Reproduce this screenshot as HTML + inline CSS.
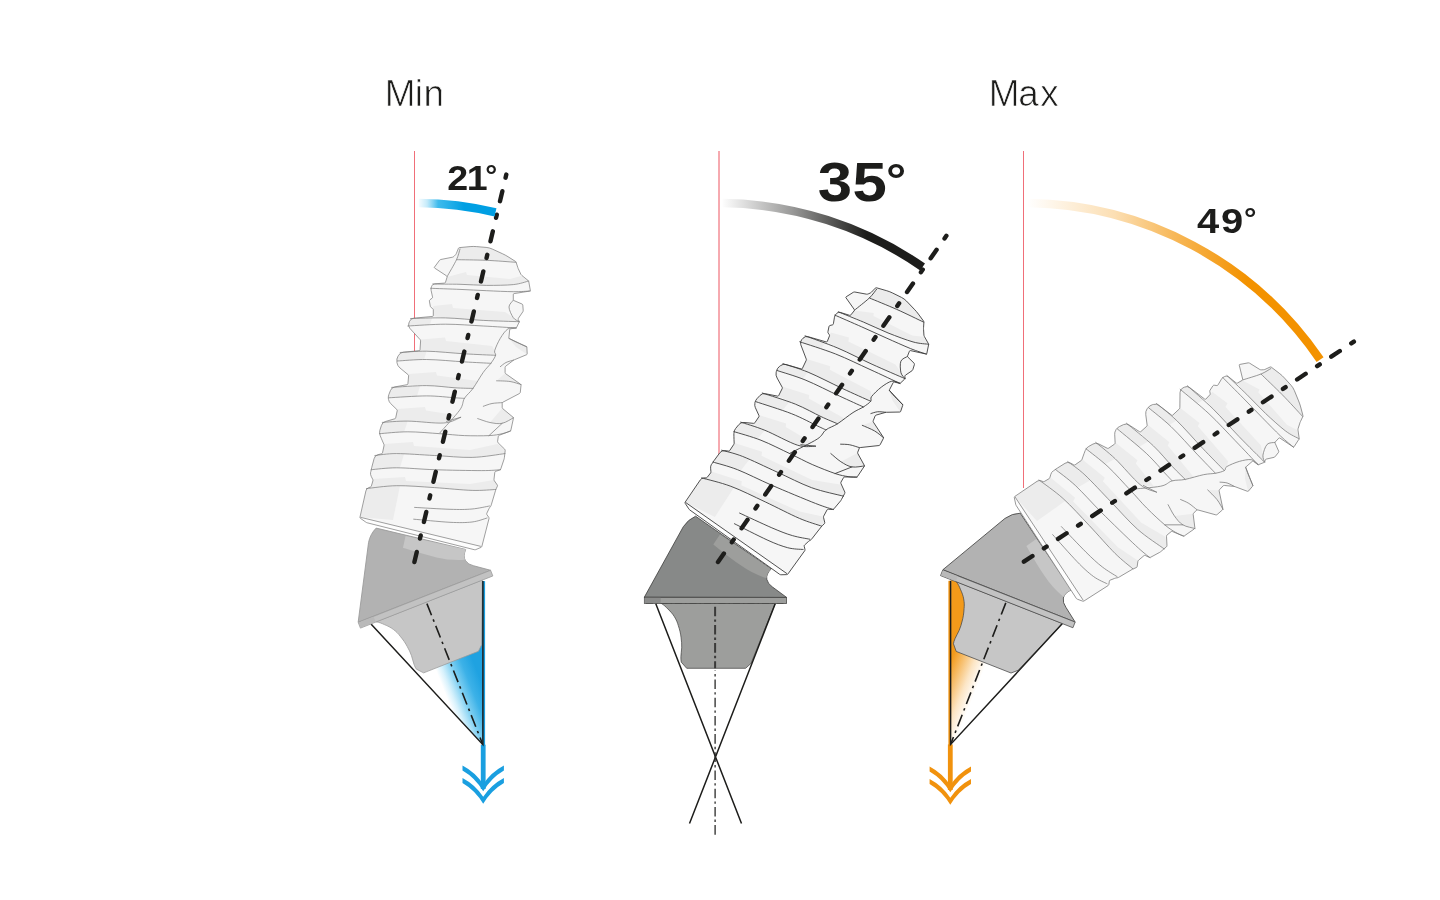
<!DOCTYPE html>
<html lang="en">
<head>
<meta charset="utf-8">
<title>Angulation Min / Max</title>
<style>
html,body{margin:0;padding:0;background:#fff;}
body{width:1440px;height:900px;overflow:hidden;}
svg{display:block;}
text{font-family:"Liberation Sans",sans-serif;fill:#1d1d1b;filter:opacity(1);}
.b{font-weight:700;}
</style>
</head>
<body>
<svg width="1440" height="900" viewBox="0 0 1440 900">
<defs>
<linearGradient id="amin" gradientUnits="userSpaceOnUse" x1="416.8" y1="0" x2="495.5" y2="0"><stop offset="0" stop-color="#4fc1f0" stop-opacity="0"/><stop offset="0.13" stop-color="#3dbbee" stop-opacity="0.3"/><stop offset="0.27" stop-color="#2ab3ea" stop-opacity="0.9"/><stop offset="0.6" stop-color="#009fe3" stop-opacity="1"/><stop offset="1" stop-color="#009fe3" stop-opacity="1"/></linearGradient>
<linearGradient id="amid" gradientUnits="userSpaceOnUse" x1="721.4" y1="0" x2="922.6" y2="0"><stop offset="0" stop-color="#1d1d1b" stop-opacity="0"/><stop offset="0.35" stop-color="#1d1d1b" stop-opacity="0.45"/><stop offset="0.72" stop-color="#1d1d1b" stop-opacity="1"/><stop offset="1" stop-color="#1d1d1b" stop-opacity="1"/></linearGradient>
<linearGradient id="amax" gradientUnits="userSpaceOnUse" x1="1026.9" y1="0" x2="1320.1" y2="0"><stop offset="0" stop-color="#f39200" stop-opacity="0"/><stop offset="0.3" stop-color="#f39200" stop-opacity="0.3"/><stop offset="0.5" stop-color="#f39200" stop-opacity="0.65"/><stop offset="0.75" stop-color="#f39200" stop-opacity="1"/><stop offset="1" stop-color="#f39200" stop-opacity="1"/></linearGradient>
<linearGradient id="gmin" gradientUnits="userSpaceOnUse" x1="737.1" y1="0" x2="699.1" y2="0"><stop offset="0" stop-color="#1fa2e1" stop-opacity="1"/><stop offset="0.3" stop-color="#27a9e5" stop-opacity="0.9"/><stop offset="0.58" stop-color="#33b3ea" stop-opacity="0.62"/><stop offset="0.84" stop-color="#3fbdf0" stop-opacity="0.2"/><stop offset="1" stop-color="#3fbdf0" stop-opacity="0"/></linearGradient>
<linearGradient id="gmax" gradientUnits="userSpaceOnUse" x1="685.1" y1="0" x2="719.1" y2="0"><stop offset="0" stop-color="#f39a1a" stop-opacity="1"/><stop offset="0.35" stop-color="#f39a1a" stop-opacity="0.6"/><stop offset="0.65" stop-color="#f39a1a" stop-opacity="0.25"/><stop offset="1" stop-color="#f39a1a" stop-opacity="0"/></linearGradient>
</defs>
<rect width="1440" height="900" fill="#fff"/>
<g>
<text font-size="36.8" y="106.2" x="384.7 414.7 423.4" stroke="#fff" stroke-width=".7">Min</text>
<text font-size="36.8" y="106.2" x="988.8 1018.3 1040.3" stroke="#fff" stroke-width=".7">Max</text>
</g>
<!-- Min view -->
<path d="M414.5 151V500" stroke="#ed5561" stroke-width=".85" fill="none"/>
<g transform="translate(413.8 562.5) rotate(-21.5) translate(-718 -562)">
<path d="M655.7 603.5 L775.3 603.5 L715.5 756.9Z" fill="url(#gmin)"/>
<path d="M661.1 603.3 C664 605 666 607 667.8 608.9 C670.5 611.5 672.8 614 674.4 616.7 C676.3 619.8 677.5 622.5 678.3 625.6 C679.8 630 680.7 634 681.1 637.8 C681.6 641 681.8 644.5 681.7 647.8 C681.6 651 681 653.5 680.9 656.7 C680.8 659 681 660.8 681.3 662.2 L686.7 668.3 L745.6 668.3 L751.1 663.3 L775.3 603.3 Z" fill="#c6c6c6" stroke="#9a9a9a" stroke-width=".7"/>
</g>
<path d="M426.9 603.6L482.9 744.7" stroke="#1d1d1b" stroke-width="1.6" stroke-dasharray="12.5 4.5 2.5 4.5" fill="none"/>
<path d="M483.8 581.1V745.7" stroke="#1a9fe0" stroke-width="2.6" fill="none"/>
<path d="M483.2 744.7V789" stroke="#1a9fe0" stroke-width="4.8" fill="none"/>
<path d="M462.5 770.4 Q475.4 777.9 483.2 791.3 Q491 777.9 503.9 770.4 L503.9 765.5 Q491 772.3 483.2 784.3 Q475.4 772.3 462.5 765.5 Z M462.5 782.9 Q475.4 790.4 483.2 803.8 Q491 790.4 503.9 782.9 L503.9 778 Q491 784.8 483.2 796.8 Q475.4 784.8 462.5 778 Z" fill="#1a9fe0"/>
<path d="M371 623.9L482.9 744.7L482.9 581.1" stroke="#1d1d1b" stroke-width="1.5" fill="none" stroke-linejoin="miter"/>
<g transform="translate(413.8 562.5) rotate(-21.5) translate(-718 -562)">
<path d="M644.4 597.1 L683.3 526.7 Q688 519.5 695.6 516.2 L771.1 568.9 Q765.8 574.3 766.8 579.3 Q767.8 584 772.5 587 L786.6 597.4 Z" fill="#b2b2b2" stroke="#9a9a9a" stroke-width=".8" stroke-linejoin="round"/>
<path d="M713.3 544.4 L720 534.4 L771.1 568.9 Q766.5 573.5 766.6 578.3 Q752 573.5 741.1 565.6 Q730 558 713.3 544.4Z" fill="#c6c6c6"/>
<rect x="644.3" y="597.4" width="142.3" height="6.1" fill="#c2c2c2" stroke="#9a9a9a" stroke-width=".7"/>
<rect x="644.7" y="597.8" width="16" height="5.3" fill="#b9b9b9"/>
</g>
<g transform="translate(414.4 562) rotate(0) translate(-414.4 -562)">
<path d="M360.4 518.3Q359.8 517.8 360 517L365.9 490.9Q366.4 488.6 368.6 487.7L370.5 487Q371.2 486.7 371.4 485.9L372.9 480.8Q373.1 480 372.7 479.3L371.2 476.3Q370.2 474.4 370.6 472.3L370.8 471.8Q371.2 469.7 371.7 467.6L374.1 458.6Q374.9 455.5 378 454.7L381.5 453.8Q382.3 453.6 382.5 452.8L384 445.8Q384.2 445 383.9 444.3L382.4 440.9Q381.3 438.4 380.3 435.9L380.1 435.3Q379.1 432.8 379.9 430.2L381.4 425.5Q382.3 422.4 385.4 421.5L394.7 418.8Q395.5 418.6 395.7 417.8L397.2 410.9Q397.4 410.1 396.8 409.5L390.7 403.6Q389 402 388.6 399.7L388.4 399.2Q388 396.9 388.8 394.7L390.5 390.4Q391.7 387.4 394.9 386.9L407 384.7Q407.8 384.6 407.9 383.8L408.6 376Q408.7 375.2 408.1 374.7L400 368Q397.5 366 397 362.9L396.9 362.1Q396.4 359 398 356.2L398.6 355.3Q400.2 352.5 403.4 352.2L419.2 350.7Q420 350.6 420 349.8L420.6 341Q420.6 340.2 420.1 339.6L409.9 328.4Q407.8 326 408.9 323L409.5 321.5Q410.6 318.5 413.8 318.2L432.5 316.4Q433.3 316.3 433.3 315.5L433.3 309.8Q433.3 309 432.6 308.5L431.1 307.5Q430.4 307 430.3 306.2L429.4 301.1Q429.3 300.3 429.9 299.8L432.1 298.2Q432.7 297.7 432.5 296.9L431.1 290.4Q430.7 288.3 431.6 286.4L431.8 285.9Q432.7 284 434.8 283.8L444.5 283.1Q445.3 283 445.5 282.2L447.1 277.1Q447.3 276.3 446.6 275.9L434.7 268.1Q434 267.7 434.5 267.1L439.5 260.3Q440 259.7 440.8 259.5L452.5 257.2Q453.3 257 453.9 256.4L455.4 254.9Q456 254.3 456.3 253.6L458.4 248.4Q458.7 247.7 459.5 247.6L470.1 246.6Q473.3 246.3 476.5 246.6L486.1 247.4Q489.3 247.7 492.2 249L502.4 253.7Q505.3 255 508 256.7L515.3 261.3Q516 261.7 516.2 262.5L517.8 267.5Q518 268.3 518.4 269L520.9 274.3Q521.3 275 521.9 275.5L528.1 280.5Q528.7 281 528.8 281.8L530.3 290.2Q530.4 291 529.6 291.1L514.1 293.6Q513.3 293.7 513.3 294.5L513.3 299.5Q513.3 300.3 514 300.6L522 304Q522.7 304.3 522.8 305.1L523.2 310.2Q523.3 311 522.9 311.7L518.4 318.3Q518 319 518.3 319.7L519 321Q519.3 321.7 519 322.4L516.7 327.3Q516.4 328 515.6 328.1L510.6 328.8Q509.8 328.9 509.7 329.7L508.9 337.5Q508.8 338.3 509.5 338.6L526.1 346.5Q526.8 346.8 526.9 347.6L527.2 353.6Q527.3 354.4 526.6 354.7L514.3 359.8Q513.6 360.1 513 360.6L505.7 366.2Q505.1 366.7 505.1 367.5L505.1 372.5Q505.1 373.3 505.8 373.8L520.4 384.1Q521.1 384.6 521 385.4L520.3 392.3Q520.2 393.1 519.5 393.5L502.9 402.2Q502.2 402.6 502.2 403.4L502.2 407.4Q502.2 408.2 502.8 408.7L513 417.2Q513.6 417.7 513.4 418.5L510.9 430.1Q510.7 430.9 510 431.2L499.1 435.3Q498.4 435.6 498.3 436.4L497.6 441.4Q497.5 442.2 498.1 442.8L504.7 449.2Q505.3 449.8 505.2 450.6L504.4 457.5Q504.3 458.3 504.1 459.1L500.8 468.9Q500.6 469.7 499.8 470L495.7 471.3Q494.9 471.6 494.8 472.4L494 479.2Q493.9 480 494.3 480.7L497.3 485Q497.7 485.7 497.3 486.4L496.2 488.8Q495.8 489.5 495.6 490.3L491.3 504.8Q491.1 505.6 490.7 506.3L489.6 507.7Q489.2 508.4 488.8 509.1L486.8 513.3Q486.4 514 486.9 514.6L488.7 517.2Q489.2 517.8 489 518.6L481.9 546.3Q481.7 547.1 481 547.4L475.8 549.6Q475.1 549.9 474.3 549.7L367.2 522.8Q366.4 522.6 365.8 522.1Z" fill="#f6f6f6" stroke="none"/>
<path d="M458.7 247.7 L473.3 246.3 L489.3 247.7 L505.3 255 L516 261.7 L486 260.3 L456.7 259.7Z" fill="#ececec"/>
<path d="M447 277 L466 272 L467 275 L510 279 L521 276 L528.7 281 L513.3 284.6 L486.7 285.4 L460 284.3 L445.3 283Z" fill="#ececec"/>
<path d="M433.3 306 L452 304 L453 308 L505 312 L511 316 L519.2 321.7 L483.3 320.4 L445.6 317.9 L433.3 316.3Z" fill="#ececec"/>
<path d="M420.6 339.5 L445 337.5 L446 341 L492 346 L494.7 350.6 L495.6 355.3 L464.4 353.8 L426.7 351.2 L420 350.6Z" fill="#ececec"/>
<path d="M408.7 374 L436 372 L437 375.5 L478 381 L473 388.4 L455 387.8 L426.7 385.6 L407.8 384.6Z" fill="#ececec"/>
<path d="M397.4 409 L425 407 L426 410.5 L455 415 L446.5 421.4 L443.7 423 L407.8 421.1 L382.3 422.4 L395.5 418.6Z" fill="#ececec"/>
<path d="M384.2 444 L413 442 L414 446 L470 450 L497.5 444 L505.3 449.8 L505 453.6 L472.2 457.4 L434.4 455.5 L396.7 453.6 L374.9 455.5 L382.3 453.6Z" fill="#ececec"/>
<path d="M373.1 479 L405 477 L406 481 L470 484 L494 480 L497.7 485.7 L495.8 489.5 L472.2 490.4 L434.4 487.6 L396.7 485.7 L366.4 488.6 L371.2 486.7Z" fill="#ececec"/>
<path d="M410.6 318.5 L432 317.9 L430 324.8 L407.8 326Z" fill="#ececec"/>
<path d="M400.2 352.5 L426.7 351.2 L424 359.6 L397.4 361 L396.4 359Z" fill="#ececec"/>
<path d="M391.7 387.4 L420 385.9 L417 396.3 L388.9 397.8 L388 396.9Z" fill="#ececec"/>
<path d="M382.3 422.4 L407.8 421.1 L404 432 L379.5 433.7 L379.1 432.8Z" fill="#ececec"/>
<path d="M374.9 455.5 L404 453.9 L400 467.6 L371.2 469.7Z" fill="#ececec"/>
<path d="M366.4 488.6 L400 485.8 L393 520 L360.4 517.3Z" fill="#ececec"/>
<path d="M508.8 338.3 L526.8 346.8 L527.3 354.4 L516 347Z" fill="#ececec"/>
<path d="M505.1 373.3 L521.1 384.6 L510 381.5 L496.6 380.8Z" fill="#ececec"/>
<path d="M502.2 408.2 L513.6 417.7 L502.2 423.3 L490 422.5Z" fill="#ececec"/>
<path d="M360.4 517.3 L480.9 546.4 L481.7 547.1 L475.1 549.9 L366.4 522.6 L359.8 517.8Z" fill="#fdfdfd"/>
<path d="M360.4 518.3Q359.8 517.8 360 517L365.9 490.9Q366.4 488.6 368.6 487.7L370.5 487Q371.2 486.7 371.4 485.9L372.9 480.8Q373.1 480 372.7 479.3L371.2 476.3Q370.2 474.4 370.6 472.3L370.8 471.8Q371.2 469.7 371.7 467.6L374.1 458.6Q374.9 455.5 378 454.7L381.5 453.8Q382.3 453.6 382.5 452.8L384 445.8Q384.2 445 383.9 444.3L382.4 440.9Q381.3 438.4 380.3 435.9L380.1 435.3Q379.1 432.8 379.9 430.2L381.4 425.5Q382.3 422.4 385.4 421.5L394.7 418.8Q395.5 418.6 395.7 417.8L397.2 410.9Q397.4 410.1 396.8 409.5L390.7 403.6Q389 402 388.6 399.7L388.4 399.2Q388 396.9 388.8 394.7L390.5 390.4Q391.7 387.4 394.9 386.9L407 384.7Q407.8 384.6 407.9 383.8L408.6 376Q408.7 375.2 408.1 374.7L400 368Q397.5 366 397 362.9L396.9 362.1Q396.4 359 398 356.2L398.6 355.3Q400.2 352.5 403.4 352.2L419.2 350.7Q420 350.6 420 349.8L420.6 341Q420.6 340.2 420.1 339.6L409.9 328.4Q407.8 326 408.9 323L409.5 321.5Q410.6 318.5 413.8 318.2L432.5 316.4Q433.3 316.3 433.3 315.5L433.3 309.8Q433.3 309 432.6 308.5L431.1 307.5Q430.4 307 430.3 306.2L429.4 301.1Q429.3 300.3 429.9 299.8L432.1 298.2Q432.7 297.7 432.5 296.9L431.1 290.4Q430.7 288.3 431.6 286.4L431.8 285.9Q432.7 284 434.8 283.8L444.5 283.1Q445.3 283 445.5 282.2L447.1 277.1Q447.3 276.3 446.6 275.9L434.7 268.1Q434 267.7 434.5 267.1L439.5 260.3Q440 259.7 440.8 259.5L452.5 257.2Q453.3 257 453.9 256.4L455.4 254.9Q456 254.3 456.3 253.6L458.4 248.4Q458.7 247.7 459.5 247.6L470.1 246.6Q473.3 246.3 476.5 246.6L486.1 247.4Q489.3 247.7 492.2 249L502.4 253.7Q505.3 255 508 256.7L515.3 261.3Q516 261.7 516.2 262.5L517.8 267.5Q518 268.3 518.4 269L520.9 274.3Q521.3 275 521.9 275.5L528.1 280.5Q528.7 281 528.8 281.8L530.3 290.2Q530.4 291 529.6 291.1L514.1 293.6Q513.3 293.7 513.3 294.5L513.3 299.5Q513.3 300.3 514 300.6L522 304Q522.7 304.3 522.8 305.1L523.2 310.2Q523.3 311 522.9 311.7L518.4 318.3Q518 319 518.3 319.7L519 321Q519.3 321.7 519 322.4L516.7 327.3Q516.4 328 515.6 328.1L510.6 328.8Q509.8 328.9 509.7 329.7L508.9 337.5Q508.8 338.3 509.5 338.6L526.1 346.5Q526.8 346.8 526.9 347.6L527.2 353.6Q527.3 354.4 526.6 354.7L514.3 359.8Q513.6 360.1 513 360.6L505.7 366.2Q505.1 366.7 505.1 367.5L505.1 372.5Q505.1 373.3 505.8 373.8L520.4 384.1Q521.1 384.6 521 385.4L520.3 392.3Q520.2 393.1 519.5 393.5L502.9 402.2Q502.2 402.6 502.2 403.4L502.2 407.4Q502.2 408.2 502.8 408.7L513 417.2Q513.6 417.7 513.4 418.5L510.9 430.1Q510.7 430.9 510 431.2L499.1 435.3Q498.4 435.6 498.3 436.4L497.6 441.4Q497.5 442.2 498.1 442.8L504.7 449.2Q505.3 449.8 505.2 450.6L504.4 457.5Q504.3 458.3 504.1 459.1L500.8 468.9Q500.6 469.7 499.8 470L495.7 471.3Q494.9 471.6 494.8 472.4L494 479.2Q493.9 480 494.3 480.7L497.3 485Q497.7 485.7 497.3 486.4L496.2 488.8Q495.8 489.5 495.6 490.3L491.3 504.8Q491.1 505.6 490.7 506.3L489.6 507.7Q489.2 508.4 488.8 509.1L486.8 513.3Q486.4 514 486.9 514.6L488.7 517.2Q489.2 517.8 489 518.6L481.9 546.3Q481.7 547.1 481 547.4L475.8 549.6Q475.1 549.9 474.3 549.7L367.2 522.8Q366.4 522.6 365.8 522.1Z" fill="none" stroke="#777" stroke-width="0.7" stroke-linejoin="round"/>
<path d="M366.4 488.6C371.4 488.1 385.4 485.9 396.7 485.7C408 485.5 421.8 486.8 434.4 487.6C447 488.4 462 490.1 472.2 490.4C482.4 490.7 491.9 489.6 495.8 489.5 M374.9 455.5C378.5 455.2 386.8 453.6 396.7 453.6C406.6 453.6 421.8 454.9 434.4 455.5C447 456.1 460.4 457.7 472.2 457.4C484 457.1 499.5 454.2 505 453.6 M371.2 469.7C375.4 469.4 386.2 467.8 396.7 467.8C407.2 467.8 420.2 469.2 434.4 469.7C448.6 470.2 470.7 470.6 481.7 470.6C492.7 470.6 497.5 469.9 500.6 469.7 M382.3 422.4C386.6 422.2 397.6 421 407.8 421.1C418 421.2 434.9 423.6 443.7 423C452.5 422.4 457.9 418.2 460.7 417.3 M379.5 433.7C384.2 433.4 397.7 431.8 407.8 431.8C417.9 431.8 430.5 433.1 439.9 433.7C449.3 434.3 456.2 435.3 464.4 435.6C472.6 435.9 482.7 435.9 489 435.6C495.3 435.3 498.6 434.5 502.2 433.7C505.8 432.9 509.3 431.4 510.7 430.9 M391.7 387.4C397.5 387.1 416.1 385.5 426.7 385.6C437.2 385.7 447.3 387.3 455 387.8C462.7 388.3 470 388.3 473 388.4 M388.9 397.8C395.2 397.5 415.7 395.9 426.7 395.9C437.7 395.9 448.7 397.4 455 397.8C461.3 398.2 462.8 398.3 464.4 398.4 M400.2 352.5C404.6 352.3 416 351 426.7 351.2C437.4 351.4 452.9 353.1 464.4 353.8C475.9 354.5 490.4 355.1 495.6 355.3 M397.4 361C402.3 360.8 415.5 359.4 426.7 359.5C437.9 359.6 453.7 361.3 464.4 361.9C475.1 362.5 486.5 363.1 490.9 363.3 M410.6 318.5C416.4 318.4 433.5 317.6 445.6 317.9C457.7 318.2 471 319.8 483.3 320.4C495.6 321 513.2 321.5 519.2 321.7 M407.8 326C414.1 325.7 433 324.2 445.6 324.2C458.2 324.2 471.5 325.4 483.3 326C495.1 326.6 510.9 327.7 516.4 328 M432.7 284C437.2 284.1 451 284.1 460 284.3C469 284.5 477.8 285.3 486.7 285.4C495.6 285.4 506.3 285.3 513.3 284.6C520.3 283.9 526.1 281.6 528.7 281 M430.7 288.3C435.6 288.5 450.7 289 460 289.4C469.3 289.8 477.8 290.3 486.7 290.7C495.6 291.1 506 291.6 513.3 291.7C520.6 291.8 527.5 291.1 530.4 291 M456.7 259.7C461.6 259.8 476.1 259.9 486 260.3C495.9 260.7 511 262 516 262.3 M460 249C459.4 250.8 458.6 255.1 456.5 259.7C454.4 264.2 448.8 273.5 447.3 276.3 M516 328C514.6 328.1 510.5 327.2 507.9 328.9C505.3 330.6 502.5 334.7 500.3 338.3C498.1 341.9 495.5 347.8 494.7 350.6C493.9 353.4 496.2 353.2 495.6 355.3C495 357.4 492.9 360.5 490.9 363.3C488.8 366.1 486.3 368.1 483.3 372.3C480.3 376.5 476.1 384 473 388.4C469.9 392.8 466.6 394.8 464.4 398.4C462.2 402 463.8 404.4 459.7 410.1C455.6 415.8 443.2 429 439.9 432.8 M446.5 421.4 L460.7 417.3 M526.8 346.8C525 346 519 343.4 516 342C513 340.6 510 338.9 508.8 338.3 M513.6 360.1C512.3 360.5 508.2 361.4 506 362.5C503.8 363.6 501.2 366 500.3 366.7 M496.6 380.8C498.8 380.9 505.9 380.9 510 381.5C514.1 382.1 519.2 384.1 521.1 384.6 M502.2 402.6C500.5 402.8 495.1 402.9 492 403.5C488.9 404.1 484.8 405.8 483.3 406.3 M477.7 418.6C479.8 419.2 485.9 421.7 490 422.5C494.1 423.3 498.3 424.1 502.2 423.3C506.1 422.5 511.7 418.6 513.6 417.7 M502.2 423.3 L489 435.6 M414.6 507.4C420.5 507.7 440.4 509 450 509.3C459.6 509.6 465.4 509.6 472 509C478.6 508.4 486.6 506.5 489.5 506 M413.7 519.2C419.8 519.7 440.3 521.8 450 522.3C459.7 522.8 465.8 522.7 472 522C478.2 521.3 484.5 518.7 487 518 M513.3 300.3C512.6 301.4 509 304.1 509 307C509 309.9 511.6 315.2 513.3 317.7C515 320.1 518.3 321 519.3 321.7" fill="none" stroke="#777" stroke-width="0.7" stroke-linecap="round" stroke-linejoin="round"/>
<path d="M360.4 517.3L480.9 546.4" fill="none" stroke="#777" stroke-width="0.7"/>
</g>
<path d="M414.4 562L506.3 174.6" stroke="#1d1d1b" stroke-width="4.4" stroke-linecap="round" stroke-dasharray="10.30 13.85 3.20 13.85" fill="none"/>
<path d="M418.8 203A359 359 0 0 1 495.5 212.3" stroke="url(#amin)" stroke-width="8.4" fill="none"/>
<!-- 35 view -->
<path d="M719 151V500" stroke="#ed5561" stroke-width="1" fill="none"/>
<g transform="translate(718 562) rotate(0) translate(-718 -562)">
<path d="M661.1 603.3 C664 605 666 607 667.8 608.9 C670.5 611.5 672.8 614 674.4 616.7 C676.3 619.8 677.5 622.5 678.3 625.6 C679.8 630 680.7 634 681.1 637.8 C681.6 641 681.8 644.5 681.7 647.8 C681.6 651 681 653.5 680.9 656.7 C680.8 659 681 660.8 681.3 662.2 L686.7 668.3 L745.6 668.3 L751.1 663.3 L775.3 603.3 Z" fill="#9d9e9c" stroke="#3c3c3b" stroke-width=".7"/>
</g>
<path d="M655.7 603.5L741.5 823.6M775.3 603.5L689.5 823.6" stroke="#1d1d1b" stroke-width="1.5" fill="none"/>
<path d="M715.1 606.7V668.3" stroke="#3a3a39" stroke-width="2" stroke-dasharray="9.6 3.1 2.4 3.1" fill="none"/>
<path d="M715.1 670.6V835.7" stroke="#2a2a29" stroke-width="1.3" stroke-dasharray="9.6 3.1 2.4 3.1" stroke-dashoffset="9.3" fill="none"/>
<path d="M646 603.3H787" stroke="#3a3a39" stroke-width="1" stroke-dasharray="7 3 1.5 3" fill="none"/>
<g transform="translate(718 562) rotate(0) translate(-718 -562)">
<path d="M644.4 597.1 L683.3 526.7 Q688 519.5 695.6 516.2 L771.1 568.9 Q765.8 574.3 766.8 579.3 Q767.8 584 772.5 587 L786.6 597.4 Z" fill="#878988" stroke="#3c3c3b" stroke-width=".8" stroke-linejoin="round"/>
<path d="M713.3 544.4 L720 534.4 L771.1 568.9 Q766.5 573.5 766.6 578.3 Q752 573.5 741.1 565.6 Q730 558 713.3 544.4Z" fill="#9d9e9c"/>
<rect x="644.3" y="597.4" width="142.3" height="6.1" fill="#9d9e9c" stroke="#3c3c3b" stroke-width=".7"/>
<rect x="644.7" y="597.8" width="16" height="5.3" fill="#8b8c8b"/>
</g>
<g transform="translate(719.4 563.8) rotate(21.5) translate(-414.4 -562)">
<path d="M360.4 518.3Q359.8 517.8 360 517L365.9 490.9Q366.4 488.6 368.6 487.7L370.5 487Q371.2 486.7 371.4 485.9L372.9 480.8Q373.1 480 372.7 479.3L371.2 476.3Q370.2 474.4 370.6 472.3L370.8 471.8Q371.2 469.7 371.7 467.6L374.1 458.6Q374.9 455.5 378 454.7L381.5 453.8Q382.3 453.6 382.5 452.8L384 445.8Q384.2 445 383.9 444.3L382.4 440.9Q381.3 438.4 380.3 435.9L380.1 435.3Q379.1 432.8 379.9 430.2L381.4 425.5Q382.3 422.4 385.4 421.5L394.7 418.8Q395.5 418.6 395.7 417.8L397.2 410.9Q397.4 410.1 396.8 409.5L390.7 403.6Q389 402 388.6 399.7L388.4 399.2Q388 396.9 388.8 394.7L390.5 390.4Q391.7 387.4 394.9 386.9L407 384.7Q407.8 384.6 407.9 383.8L408.6 376Q408.7 375.2 408.1 374.7L400 368Q397.5 366 397 362.9L396.9 362.1Q396.4 359 398 356.2L398.6 355.3Q400.2 352.5 403.4 352.2L419.2 350.7Q420 350.6 420 349.8L420.6 341Q420.6 340.2 420.1 339.6L409.9 328.4Q407.8 326 408.9 323L409.5 321.5Q410.6 318.5 413.8 318.2L432.5 316.4Q433.3 316.3 433.3 315.5L433.3 309.8Q433.3 309 432.6 308.5L431.1 307.5Q430.4 307 430.3 306.2L429.4 301.1Q429.3 300.3 429.9 299.8L432.1 298.2Q432.7 297.7 432.5 296.9L431.1 290.4Q430.7 288.3 431.6 286.4L431.8 285.9Q432.7 284 434.8 283.8L444.5 283.1Q445.3 283 445.5 282.2L447.1 277.1Q447.3 276.3 446.6 275.9L434.7 268.1Q434 267.7 434.5 267.1L439.5 260.3Q440 259.7 440.8 259.5L452.5 257.2Q453.3 257 453.9 256.4L455.4 254.9Q456 254.3 456.3 253.6L458.4 248.4Q458.7 247.7 459.5 247.6L470.1 246.6Q473.3 246.3 476.5 246.6L486.1 247.4Q489.3 247.7 492.2 249L502.4 253.7Q505.3 255 508 256.7L515.3 261.3Q516 261.7 516.2 262.5L517.8 267.5Q518 268.3 518.4 269L520.9 274.3Q521.3 275 521.9 275.5L528.1 280.5Q528.7 281 528.8 281.8L530.3 290.2Q530.4 291 529.6 291.1L514.1 293.6Q513.3 293.7 513.3 294.5L513.3 299.5Q513.3 300.3 514 300.6L522 304Q522.7 304.3 522.8 305.1L523.2 310.2Q523.3 311 522.9 311.7L518.4 318.3Q518 319 518.3 319.7L519 321Q519.3 321.7 519 322.4L516.7 327.3Q516.4 328 515.6 328.1L510.6 328.8Q509.8 328.9 509.7 329.7L508.9 337.5Q508.8 338.3 509.5 338.6L526.1 346.5Q526.8 346.8 526.9 347.6L527.2 353.6Q527.3 354.4 526.6 354.7L514.3 359.8Q513.6 360.1 513 360.6L505.7 366.2Q505.1 366.7 505.1 367.5L505.1 372.5Q505.1 373.3 505.8 373.8L520.4 384.1Q521.1 384.6 521 385.4L520.3 392.3Q520.2 393.1 519.5 393.5L502.9 402.2Q502.2 402.6 502.2 403.4L502.2 407.4Q502.2 408.2 502.8 408.7L513 417.2Q513.6 417.7 513.4 418.5L510.9 430.1Q510.7 430.9 510 431.2L499.1 435.3Q498.4 435.6 498.3 436.4L497.6 441.4Q497.5 442.2 498.1 442.8L504.7 449.2Q505.3 449.8 505.2 450.6L504.4 457.5Q504.3 458.3 504.1 459.1L500.8 468.9Q500.6 469.7 499.8 470L495.7 471.3Q494.9 471.6 494.8 472.4L494 479.2Q493.9 480 494.3 480.7L497.3 485Q497.7 485.7 497.3 486.4L496.2 488.8Q495.8 489.5 495.6 490.3L491.3 504.8Q491.1 505.6 490.7 506.3L489.6 507.7Q489.2 508.4 488.8 509.1L486.8 513.3Q486.4 514 486.9 514.6L488.7 517.2Q489.2 517.8 489 518.6L481.9 546.3Q481.7 547.1 481 547.4L475.8 549.6Q475.1 549.9 474.3 549.7L367.2 522.8Q366.4 522.6 365.8 522.1Z" fill="#f6f6f6" stroke="none"/>
<path d="M458.7 247.7 L473.3 246.3 L489.3 247.7 L505.3 255 L516 261.7 L486 260.3 L456.7 259.7Z" fill="#ececec"/>
<path d="M447 277 L466 272 L467 275 L510 279 L521 276 L528.7 281 L513.3 284.6 L486.7 285.4 L460 284.3 L445.3 283Z" fill="#ececec"/>
<path d="M433.3 306 L452 304 L453 308 L505 312 L511 316 L519.2 321.7 L483.3 320.4 L445.6 317.9 L433.3 316.3Z" fill="#ececec"/>
<path d="M420.6 339.5 L445 337.5 L446 341 L492 346 L494.7 350.6 L495.6 355.3 L464.4 353.8 L426.7 351.2 L420 350.6Z" fill="#ececec"/>
<path d="M408.7 374 L436 372 L437 375.5 L478 381 L473 388.4 L455 387.8 L426.7 385.6 L407.8 384.6Z" fill="#ececec"/>
<path d="M397.4 409 L425 407 L426 410.5 L455 415 L446.5 421.4 L443.7 423 L407.8 421.1 L382.3 422.4 L395.5 418.6Z" fill="#ececec"/>
<path d="M384.2 444 L413 442 L414 446 L470 450 L497.5 444 L505.3 449.8 L505 453.6 L472.2 457.4 L434.4 455.5 L396.7 453.6 L374.9 455.5 L382.3 453.6Z" fill="#ececec"/>
<path d="M373.1 479 L405 477 L406 481 L470 484 L494 480 L497.7 485.7 L495.8 489.5 L472.2 490.4 L434.4 487.6 L396.7 485.7 L366.4 488.6 L371.2 486.7Z" fill="#ececec"/>
<path d="M410.6 318.5 L432 317.9 L430 324.8 L407.8 326Z" fill="#ececec"/>
<path d="M400.2 352.5 L426.7 351.2 L424 359.6 L397.4 361 L396.4 359Z" fill="#ececec"/>
<path d="M391.7 387.4 L420 385.9 L417 396.3 L388.9 397.8 L388 396.9Z" fill="#ececec"/>
<path d="M382.3 422.4 L407.8 421.1 L404 432 L379.5 433.7 L379.1 432.8Z" fill="#ececec"/>
<path d="M374.9 455.5 L404 453.9 L400 467.6 L371.2 469.7Z" fill="#ececec"/>
<path d="M366.4 488.6 L400 485.8 L393 520 L360.4 517.3Z" fill="#ececec"/>
<path d="M508.8 338.3 L526.8 346.8 L527.3 354.4 L516 347Z" fill="#ececec"/>
<path d="M505.1 373.3 L521.1 384.6 L510 381.5 L496.6 380.8Z" fill="#ececec"/>
<path d="M502.2 408.2 L513.6 417.7 L502.2 423.3 L490 422.5Z" fill="#ececec"/>
<path d="M360.4 517.3 L480.9 546.4 L481.7 547.1 L475.1 549.9 L366.4 522.6 L359.8 517.8Z" fill="#fdfdfd"/>
<path d="M360.4 518.3Q359.8 517.8 360 517L365.9 490.9Q366.4 488.6 368.6 487.7L370.5 487Q371.2 486.7 371.4 485.9L372.9 480.8Q373.1 480 372.7 479.3L371.2 476.3Q370.2 474.4 370.6 472.3L370.8 471.8Q371.2 469.7 371.7 467.6L374.1 458.6Q374.9 455.5 378 454.7L381.5 453.8Q382.3 453.6 382.5 452.8L384 445.8Q384.2 445 383.9 444.3L382.4 440.9Q381.3 438.4 380.3 435.9L380.1 435.3Q379.1 432.8 379.9 430.2L381.4 425.5Q382.3 422.4 385.4 421.5L394.7 418.8Q395.5 418.6 395.7 417.8L397.2 410.9Q397.4 410.1 396.8 409.5L390.7 403.6Q389 402 388.6 399.7L388.4 399.2Q388 396.9 388.8 394.7L390.5 390.4Q391.7 387.4 394.9 386.9L407 384.7Q407.8 384.6 407.9 383.8L408.6 376Q408.7 375.2 408.1 374.7L400 368Q397.5 366 397 362.9L396.9 362.1Q396.4 359 398 356.2L398.6 355.3Q400.2 352.5 403.4 352.2L419.2 350.7Q420 350.6 420 349.8L420.6 341Q420.6 340.2 420.1 339.6L409.9 328.4Q407.8 326 408.9 323L409.5 321.5Q410.6 318.5 413.8 318.2L432.5 316.4Q433.3 316.3 433.3 315.5L433.3 309.8Q433.3 309 432.6 308.5L431.1 307.5Q430.4 307 430.3 306.2L429.4 301.1Q429.3 300.3 429.9 299.8L432.1 298.2Q432.7 297.7 432.5 296.9L431.1 290.4Q430.7 288.3 431.6 286.4L431.8 285.9Q432.7 284 434.8 283.8L444.5 283.1Q445.3 283 445.5 282.2L447.1 277.1Q447.3 276.3 446.6 275.9L434.7 268.1Q434 267.7 434.5 267.1L439.5 260.3Q440 259.7 440.8 259.5L452.5 257.2Q453.3 257 453.9 256.4L455.4 254.9Q456 254.3 456.3 253.6L458.4 248.4Q458.7 247.7 459.5 247.6L470.1 246.6Q473.3 246.3 476.5 246.6L486.1 247.4Q489.3 247.7 492.2 249L502.4 253.7Q505.3 255 508 256.7L515.3 261.3Q516 261.7 516.2 262.5L517.8 267.5Q518 268.3 518.4 269L520.9 274.3Q521.3 275 521.9 275.5L528.1 280.5Q528.7 281 528.8 281.8L530.3 290.2Q530.4 291 529.6 291.1L514.1 293.6Q513.3 293.7 513.3 294.5L513.3 299.5Q513.3 300.3 514 300.6L522 304Q522.7 304.3 522.8 305.1L523.2 310.2Q523.3 311 522.9 311.7L518.4 318.3Q518 319 518.3 319.7L519 321Q519.3 321.7 519 322.4L516.7 327.3Q516.4 328 515.6 328.1L510.6 328.8Q509.8 328.9 509.7 329.7L508.9 337.5Q508.8 338.3 509.5 338.6L526.1 346.5Q526.8 346.8 526.9 347.6L527.2 353.6Q527.3 354.4 526.6 354.7L514.3 359.8Q513.6 360.1 513 360.6L505.7 366.2Q505.1 366.7 505.1 367.5L505.1 372.5Q505.1 373.3 505.8 373.8L520.4 384.1Q521.1 384.6 521 385.4L520.3 392.3Q520.2 393.1 519.5 393.5L502.9 402.2Q502.2 402.6 502.2 403.4L502.2 407.4Q502.2 408.2 502.8 408.7L513 417.2Q513.6 417.7 513.4 418.5L510.9 430.1Q510.7 430.9 510 431.2L499.1 435.3Q498.4 435.6 498.3 436.4L497.6 441.4Q497.5 442.2 498.1 442.8L504.7 449.2Q505.3 449.8 505.2 450.6L504.4 457.5Q504.3 458.3 504.1 459.1L500.8 468.9Q500.6 469.7 499.8 470L495.7 471.3Q494.9 471.6 494.8 472.4L494 479.2Q493.9 480 494.3 480.7L497.3 485Q497.7 485.7 497.3 486.4L496.2 488.8Q495.8 489.5 495.6 490.3L491.3 504.8Q491.1 505.6 490.7 506.3L489.6 507.7Q489.2 508.4 488.8 509.1L486.8 513.3Q486.4 514 486.9 514.6L488.7 517.2Q489.2 517.8 489 518.6L481.9 546.3Q481.7 547.1 481 547.4L475.8 549.6Q475.1 549.9 474.3 549.7L367.2 522.8Q366.4 522.6 365.8 522.1Z" fill="none" stroke="#3c3c3b" stroke-width="0.8" stroke-linejoin="round"/>
<path d="M366.4 488.6C371.4 488.1 385.4 485.9 396.7 485.7C408 485.5 421.8 486.8 434.4 487.6C447 488.4 462 490.1 472.2 490.4C482.4 490.7 491.9 489.6 495.8 489.5 M374.9 455.5C378.5 455.2 386.8 453.6 396.7 453.6C406.6 453.6 421.8 454.9 434.4 455.5C447 456.1 460.4 457.7 472.2 457.4C484 457.1 499.5 454.2 505 453.6 M371.2 469.7C375.4 469.4 386.2 467.8 396.7 467.8C407.2 467.8 420.2 469.2 434.4 469.7C448.6 470.2 470.7 470.6 481.7 470.6C492.7 470.6 497.5 469.9 500.6 469.7 M382.3 422.4C386.6 422.2 397.6 421 407.8 421.1C418 421.2 434.9 423.6 443.7 423C452.5 422.4 457.9 418.2 460.7 417.3 M379.5 433.7C384.2 433.4 397.7 431.8 407.8 431.8C417.9 431.8 430.5 433.1 439.9 433.7C449.3 434.3 456.2 435.3 464.4 435.6C472.6 435.9 482.7 435.9 489 435.6C495.3 435.3 498.6 434.5 502.2 433.7C505.8 432.9 509.3 431.4 510.7 430.9 M391.7 387.4C397.5 387.1 416.1 385.5 426.7 385.6C437.2 385.7 447.3 387.3 455 387.8C462.7 388.3 470 388.3 473 388.4 M388.9 397.8C395.2 397.5 415.7 395.9 426.7 395.9C437.7 395.9 448.7 397.4 455 397.8C461.3 398.2 462.8 398.3 464.4 398.4 M400.2 352.5C404.6 352.3 416 351 426.7 351.2C437.4 351.4 452.9 353.1 464.4 353.8C475.9 354.5 490.4 355.1 495.6 355.3 M397.4 361C402.3 360.8 415.5 359.4 426.7 359.5C437.9 359.6 453.7 361.3 464.4 361.9C475.1 362.5 486.5 363.1 490.9 363.3 M410.6 318.5C416.4 318.4 433.5 317.6 445.6 317.9C457.7 318.2 471 319.8 483.3 320.4C495.6 321 513.2 321.5 519.2 321.7 M407.8 326C414.1 325.7 433 324.2 445.6 324.2C458.2 324.2 471.5 325.4 483.3 326C495.1 326.6 510.9 327.7 516.4 328 M432.7 284C437.2 284.1 451 284.1 460 284.3C469 284.5 477.8 285.3 486.7 285.4C495.6 285.4 506.3 285.3 513.3 284.6C520.3 283.9 526.1 281.6 528.7 281 M430.7 288.3C435.6 288.5 450.7 289 460 289.4C469.3 289.8 477.8 290.3 486.7 290.7C495.6 291.1 506 291.6 513.3 291.7C520.6 291.8 527.5 291.1 530.4 291 M456.7 259.7C461.6 259.8 476.1 259.9 486 260.3C495.9 260.7 511 262 516 262.3 M460 249C459.4 250.8 458.6 255.1 456.5 259.7C454.4 264.2 448.8 273.5 447.3 276.3 M516 328C514.6 328.1 510.5 327.2 507.9 328.9C505.3 330.6 502.5 334.7 500.3 338.3C498.1 341.9 495.5 347.8 494.7 350.6C493.9 353.4 496.2 353.2 495.6 355.3C495 357.4 492.9 360.5 490.9 363.3C488.8 366.1 486.3 368.1 483.3 372.3C480.3 376.5 476.1 384 473 388.4C469.9 392.8 466.6 394.8 464.4 398.4C462.2 402 463.8 404.4 459.7 410.1C455.6 415.8 443.2 429 439.9 432.8 M446.5 421.4 L460.7 417.3 M526.8 346.8C525 346 519 343.4 516 342C513 340.6 510 338.9 508.8 338.3 M513.6 360.1C512.3 360.5 508.2 361.4 506 362.5C503.8 363.6 501.2 366 500.3 366.7 M496.6 380.8C498.8 380.9 505.9 380.9 510 381.5C514.1 382.1 519.2 384.1 521.1 384.6 M502.2 402.6C500.5 402.8 495.1 402.9 492 403.5C488.9 404.1 484.8 405.8 483.3 406.3 M477.7 418.6C479.8 419.2 485.9 421.7 490 422.5C494.1 423.3 498.3 424.1 502.2 423.3C506.1 422.5 511.7 418.6 513.6 417.7 M502.2 423.3 L489 435.6 M414.6 507.4C420.5 507.7 440.4 509 450 509.3C459.6 509.6 465.4 509.6 472 509C478.6 508.4 486.6 506.5 489.5 506 M413.7 519.2C419.8 519.7 440.3 521.8 450 522.3C459.7 522.8 465.8 522.7 472 522C478.2 521.3 484.5 518.7 487 518 M513.3 300.3C512.6 301.4 509 304.1 509 307C509 309.9 511.6 315.2 513.3 317.7C515 320.1 518.3 321 519.3 321.7" fill="none" stroke="#3c3c3b" stroke-width="0.8" stroke-linecap="round" stroke-linejoin="round"/>
<path d="M360.4 517.3L480.9 546.4" fill="none" stroke="#3c3c3b" stroke-width="0.8"/>
</g>
<path d="M718 562L946.4 235.8" stroke="#1d1d1b" stroke-width="4.4" stroke-linecap="round" stroke-dasharray="10.30 13.85 3.20 13.85" fill="none"/>
<path d="M722.4 203A359 359 0 0 1 922.6 267" stroke="url(#amid)" stroke-width="8.4" fill="none"/>
<!-- Max view -->
<path d="M1023.5 151V488" stroke="#ed5561" stroke-width=".85" fill="none"/>
<g transform="translate(1024.3 564) rotate(21.5) translate(-718 -562)">
<path d="M655.7 603.5 L775.3 603.5 L715.5 756.9Z" fill="url(#gmax)"/>
<path d="M661.1 603.3 C664 605 666 607 667.8 608.9 C670.5 611.5 672.8 614 674.4 616.7 C676.3 619.8 677.5 622.5 678.3 625.6 C679.8 630 680.7 634 681.1 637.8 C681.6 641 681.8 644.5 681.7 647.8 C681.6 651 681 653.5 680.9 656.7 C680.8 659 681 660.8 681.3 662.2 L686.7 668.3 L745.6 668.3 L751.1 663.3 L775.3 603.3 Z" fill="#c6c6c6" stroke="#4a4a49" stroke-width=".7"/>
</g>
<path d="M1005.8 602.9L950.6 744.4" stroke="#1d1d1b" stroke-width="1.6" stroke-dasharray="12.5 4.5 2.5 4.5" fill="none"/>
<path d="M949.7 580.8V745.4" stroke="#f1920d" stroke-width="2.6" fill="none"/>
<path d="M950.3 744.4V790" stroke="#f1920d" stroke-width="4.8" fill="none"/>
<path d="M929.6 771.4 Q942.5 778.9 950.3 792.3 Q958.1 778.9 971 771.4 L971 766.5 Q958.1 773.3 950.3 785.3 Q942.5 773.3 929.6 766.5 Z M929.6 783.9 Q942.5 791.4 950.3 804.8 Q958.1 791.4 971 783.9 L971 779 Q958.1 785.8 950.3 797.8 Q942.5 785.8 929.6 779 Z" fill="#f1920d"/>
<path d="M1062.4 623.6L950.6 744.4L950.6 580.8" stroke="#1d1d1b" stroke-width="1.5" fill="none" stroke-linejoin="miter"/>
<g transform="translate(1024.3 564) rotate(21.5) translate(-718 -562)">
<path d="M644.4 597.1 L683.3 526.7 Q688 519.5 695.6 516.2 L771.1 568.9 Q765.8 574.3 766.8 579.3 Q767.8 584 772.5 587 L786.6 597.4 Z" fill="#b2b2b2" stroke="#4a4a49" stroke-width=".8" stroke-linejoin="round"/>
<path d="M713.3 544.4 L720 534.4 L771.1 568.9 Q766.5 573.5 766.6 578.3 Q752 573.5 741.1 565.6 Q730 558 713.3 544.4Z" fill="#c6c6c6"/>
<rect x="644.3" y="597.4" width="142.3" height="6.1" fill="#c2c2c2" stroke="#4a4a49" stroke-width=".7"/>
<rect x="644.7" y="597.8" width="16" height="5.3" fill="#b9b9b9"/>
</g>
<g transform="translate(1024 566.4) rotate(43) translate(-414.4 -562)">
<path d="M360.4 518.3Q359.8 517.8 360 517L365.9 490.9Q366.4 488.6 368.6 487.7L370.5 487Q371.2 486.7 371.4 485.9L372.9 480.8Q373.1 480 372.7 479.3L371.2 476.3Q370.2 474.4 370.6 472.3L370.8 471.8Q371.2 469.7 371.7 467.6L374.1 458.6Q374.9 455.5 378 454.7L381.5 453.8Q382.3 453.6 382.5 452.8L384 445.8Q384.2 445 383.9 444.3L382.4 440.9Q381.3 438.4 380.3 435.9L380.1 435.3Q379.1 432.8 379.9 430.2L381.4 425.5Q382.3 422.4 385.4 421.5L394.7 418.8Q395.5 418.6 395.7 417.8L397.2 410.9Q397.4 410.1 396.8 409.5L390.7 403.6Q389 402 388.6 399.7L388.4 399.2Q388 396.9 388.8 394.7L390.5 390.4Q391.7 387.4 394.9 386.9L407 384.7Q407.8 384.6 407.9 383.8L408.6 376Q408.7 375.2 408.1 374.7L400 368Q397.5 366 397 362.9L396.9 362.1Q396.4 359 398 356.2L398.6 355.3Q400.2 352.5 403.4 352.2L419.2 350.7Q420 350.6 420 349.8L420.6 341Q420.6 340.2 420.1 339.6L409.9 328.4Q407.8 326 408.9 323L409.5 321.5Q410.6 318.5 413.8 318.2L432.5 316.4Q433.3 316.3 433.3 315.5L433.3 309.8Q433.3 309 432.6 308.5L431.1 307.5Q430.4 307 430.3 306.2L429.4 301.1Q429.3 300.3 429.9 299.8L432.1 298.2Q432.7 297.7 432.5 296.9L431.1 290.4Q430.7 288.3 431.6 286.4L431.8 285.9Q432.7 284 434.8 283.8L444.5 283.1Q445.3 283 445.5 282.2L447.1 277.1Q447.3 276.3 446.6 275.9L434.7 268.1Q434 267.7 434.5 267.1L439.5 260.3Q440 259.7 440.8 259.5L452.5 257.2Q453.3 257 453.9 256.4L455.4 254.9Q456 254.3 456.3 253.6L458.4 248.4Q458.7 247.7 459.5 247.6L470.1 246.6Q473.3 246.3 476.5 246.6L486.1 247.4Q489.3 247.7 492.2 249L502.4 253.7Q505.3 255 508 256.7L515.3 261.3Q516 261.7 516.2 262.5L517.8 267.5Q518 268.3 518.4 269L520.9 274.3Q521.3 275 521.9 275.5L528.1 280.5Q528.7 281 528.8 281.8L530.3 290.2Q530.4 291 529.6 291.1L514.1 293.6Q513.3 293.7 513.3 294.5L513.3 299.5Q513.3 300.3 514 300.6L522 304Q522.7 304.3 522.8 305.1L523.2 310.2Q523.3 311 522.9 311.7L518.4 318.3Q518 319 518.3 319.7L519 321Q519.3 321.7 519 322.4L516.7 327.3Q516.4 328 515.6 328.1L510.6 328.8Q509.8 328.9 509.7 329.7L508.9 337.5Q508.8 338.3 509.5 338.6L526.1 346.5Q526.8 346.8 526.9 347.6L527.2 353.6Q527.3 354.4 526.6 354.7L514.3 359.8Q513.6 360.1 513 360.6L505.7 366.2Q505.1 366.7 505.1 367.5L505.1 372.5Q505.1 373.3 505.8 373.8L520.4 384.1Q521.1 384.6 521 385.4L520.3 392.3Q520.2 393.1 519.5 393.5L502.9 402.2Q502.2 402.6 502.2 403.4L502.2 407.4Q502.2 408.2 502.8 408.7L513 417.2Q513.6 417.7 513.4 418.5L510.9 430.1Q510.7 430.9 510 431.2L499.1 435.3Q498.4 435.6 498.3 436.4L497.6 441.4Q497.5 442.2 498.1 442.8L504.7 449.2Q505.3 449.8 505.2 450.6L504.4 457.5Q504.3 458.3 504.1 459.1L500.8 468.9Q500.6 469.7 499.8 470L495.7 471.3Q494.9 471.6 494.8 472.4L494 479.2Q493.9 480 494.3 480.7L497.3 485Q497.7 485.7 497.3 486.4L496.2 488.8Q495.8 489.5 495.6 490.3L491.3 504.8Q491.1 505.6 490.7 506.3L489.6 507.7Q489.2 508.4 488.8 509.1L486.8 513.3Q486.4 514 486.9 514.6L488.7 517.2Q489.2 517.8 489 518.6L481.9 546.3Q481.7 547.1 481 547.4L475.8 549.6Q475.1 549.9 474.3 549.7L367.2 522.8Q366.4 522.6 365.8 522.1Z" fill="#f6f6f6" stroke="none"/>
<path d="M458.7 247.7 L473.3 246.3 L489.3 247.7 L505.3 255 L516 261.7 L486 260.3 L456.7 259.7Z" fill="#ececec"/>
<path d="M447 277 L466 272 L467 275 L510 279 L521 276 L528.7 281 L513.3 284.6 L486.7 285.4 L460 284.3 L445.3 283Z" fill="#ececec"/>
<path d="M433.3 306 L452 304 L453 308 L505 312 L511 316 L519.2 321.7 L483.3 320.4 L445.6 317.9 L433.3 316.3Z" fill="#ececec"/>
<path d="M420.6 339.5 L445 337.5 L446 341 L492 346 L494.7 350.6 L495.6 355.3 L464.4 353.8 L426.7 351.2 L420 350.6Z" fill="#ececec"/>
<path d="M408.7 374 L436 372 L437 375.5 L478 381 L473 388.4 L455 387.8 L426.7 385.6 L407.8 384.6Z" fill="#ececec"/>
<path d="M397.4 409 L425 407 L426 410.5 L455 415 L446.5 421.4 L443.7 423 L407.8 421.1 L382.3 422.4 L395.5 418.6Z" fill="#ececec"/>
<path d="M384.2 444 L413 442 L414 446 L470 450 L497.5 444 L505.3 449.8 L505 453.6 L472.2 457.4 L434.4 455.5 L396.7 453.6 L374.9 455.5 L382.3 453.6Z" fill="#ececec"/>
<path d="M373.1 479 L405 477 L406 481 L470 484 L494 480 L497.7 485.7 L495.8 489.5 L472.2 490.4 L434.4 487.6 L396.7 485.7 L366.4 488.6 L371.2 486.7Z" fill="#ececec"/>
<path d="M410.6 318.5 L432 317.9 L430 324.8 L407.8 326Z" fill="#ececec"/>
<path d="M400.2 352.5 L426.7 351.2 L424 359.6 L397.4 361 L396.4 359Z" fill="#ececec"/>
<path d="M391.7 387.4 L420 385.9 L417 396.3 L388.9 397.8 L388 396.9Z" fill="#ececec"/>
<path d="M382.3 422.4 L407.8 421.1 L404 432 L379.5 433.7 L379.1 432.8Z" fill="#ececec"/>
<path d="M374.9 455.5 L404 453.9 L400 467.6 L371.2 469.7Z" fill="#ececec"/>
<path d="M366.4 488.6 L400 485.8 L393 520 L360.4 517.3Z" fill="#ececec"/>
<path d="M508.8 338.3 L526.8 346.8 L527.3 354.4 L516 347Z" fill="#ececec"/>
<path d="M505.1 373.3 L521.1 384.6 L510 381.5 L496.6 380.8Z" fill="#ececec"/>
<path d="M502.2 408.2 L513.6 417.7 L502.2 423.3 L490 422.5Z" fill="#ececec"/>
<path d="M360.4 517.3 L480.9 546.4 L481.7 547.1 L475.1 549.9 L366.4 522.6 L359.8 517.8Z" fill="#fdfdfd"/>
<path d="M360.4 518.3Q359.8 517.8 360 517L365.9 490.9Q366.4 488.6 368.6 487.7L370.5 487Q371.2 486.7 371.4 485.9L372.9 480.8Q373.1 480 372.7 479.3L371.2 476.3Q370.2 474.4 370.6 472.3L370.8 471.8Q371.2 469.7 371.7 467.6L374.1 458.6Q374.9 455.5 378 454.7L381.5 453.8Q382.3 453.6 382.5 452.8L384 445.8Q384.2 445 383.9 444.3L382.4 440.9Q381.3 438.4 380.3 435.9L380.1 435.3Q379.1 432.8 379.9 430.2L381.4 425.5Q382.3 422.4 385.4 421.5L394.7 418.8Q395.5 418.6 395.7 417.8L397.2 410.9Q397.4 410.1 396.8 409.5L390.7 403.6Q389 402 388.6 399.7L388.4 399.2Q388 396.9 388.8 394.7L390.5 390.4Q391.7 387.4 394.9 386.9L407 384.7Q407.8 384.6 407.9 383.8L408.6 376Q408.7 375.2 408.1 374.7L400 368Q397.5 366 397 362.9L396.9 362.1Q396.4 359 398 356.2L398.6 355.3Q400.2 352.5 403.4 352.2L419.2 350.7Q420 350.6 420 349.8L420.6 341Q420.6 340.2 420.1 339.6L409.9 328.4Q407.8 326 408.9 323L409.5 321.5Q410.6 318.5 413.8 318.2L432.5 316.4Q433.3 316.3 433.3 315.5L433.3 309.8Q433.3 309 432.6 308.5L431.1 307.5Q430.4 307 430.3 306.2L429.4 301.1Q429.3 300.3 429.9 299.8L432.1 298.2Q432.7 297.7 432.5 296.9L431.1 290.4Q430.7 288.3 431.6 286.4L431.8 285.9Q432.7 284 434.8 283.8L444.5 283.1Q445.3 283 445.5 282.2L447.1 277.1Q447.3 276.3 446.6 275.9L434.7 268.1Q434 267.7 434.5 267.1L439.5 260.3Q440 259.7 440.8 259.5L452.5 257.2Q453.3 257 453.9 256.4L455.4 254.9Q456 254.3 456.3 253.6L458.4 248.4Q458.7 247.7 459.5 247.6L470.1 246.6Q473.3 246.3 476.5 246.6L486.1 247.4Q489.3 247.7 492.2 249L502.4 253.7Q505.3 255 508 256.7L515.3 261.3Q516 261.7 516.2 262.5L517.8 267.5Q518 268.3 518.4 269L520.9 274.3Q521.3 275 521.9 275.5L528.1 280.5Q528.7 281 528.8 281.8L530.3 290.2Q530.4 291 529.6 291.1L514.1 293.6Q513.3 293.7 513.3 294.5L513.3 299.5Q513.3 300.3 514 300.6L522 304Q522.7 304.3 522.8 305.1L523.2 310.2Q523.3 311 522.9 311.7L518.4 318.3Q518 319 518.3 319.7L519 321Q519.3 321.7 519 322.4L516.7 327.3Q516.4 328 515.6 328.1L510.6 328.8Q509.8 328.9 509.7 329.7L508.9 337.5Q508.8 338.3 509.5 338.6L526.1 346.5Q526.8 346.8 526.9 347.6L527.2 353.6Q527.3 354.4 526.6 354.7L514.3 359.8Q513.6 360.1 513 360.6L505.7 366.2Q505.1 366.7 505.1 367.5L505.1 372.5Q505.1 373.3 505.8 373.8L520.4 384.1Q521.1 384.6 521 385.4L520.3 392.3Q520.2 393.1 519.5 393.5L502.9 402.2Q502.2 402.6 502.2 403.4L502.2 407.4Q502.2 408.2 502.8 408.7L513 417.2Q513.6 417.7 513.4 418.5L510.9 430.1Q510.7 430.9 510 431.2L499.1 435.3Q498.4 435.6 498.3 436.4L497.6 441.4Q497.5 442.2 498.1 442.8L504.7 449.2Q505.3 449.8 505.2 450.6L504.4 457.5Q504.3 458.3 504.1 459.1L500.8 468.9Q500.6 469.7 499.8 470L495.7 471.3Q494.9 471.6 494.8 472.4L494 479.2Q493.9 480 494.3 480.7L497.3 485Q497.7 485.7 497.3 486.4L496.2 488.8Q495.8 489.5 495.6 490.3L491.3 504.8Q491.1 505.6 490.7 506.3L489.6 507.7Q489.2 508.4 488.8 509.1L486.8 513.3Q486.4 514 486.9 514.6L488.7 517.2Q489.2 517.8 489 518.6L481.9 546.3Q481.7 547.1 481 547.4L475.8 549.6Q475.1 549.9 474.3 549.7L367.2 522.8Q366.4 522.6 365.8 522.1Z" fill="none" stroke="#777" stroke-width="0.7" stroke-linejoin="round"/>
<path d="M366.4 488.6C371.4 488.1 385.4 485.9 396.7 485.7C408 485.5 421.8 486.8 434.4 487.6C447 488.4 462 490.1 472.2 490.4C482.4 490.7 491.9 489.6 495.8 489.5 M374.9 455.5C378.5 455.2 386.8 453.6 396.7 453.6C406.6 453.6 421.8 454.9 434.4 455.5C447 456.1 460.4 457.7 472.2 457.4C484 457.1 499.5 454.2 505 453.6 M371.2 469.7C375.4 469.4 386.2 467.8 396.7 467.8C407.2 467.8 420.2 469.2 434.4 469.7C448.6 470.2 470.7 470.6 481.7 470.6C492.7 470.6 497.5 469.9 500.6 469.7 M382.3 422.4C386.6 422.2 397.6 421 407.8 421.1C418 421.2 434.9 423.6 443.7 423C452.5 422.4 457.9 418.2 460.7 417.3 M379.5 433.7C384.2 433.4 397.7 431.8 407.8 431.8C417.9 431.8 430.5 433.1 439.9 433.7C449.3 434.3 456.2 435.3 464.4 435.6C472.6 435.9 482.7 435.9 489 435.6C495.3 435.3 498.6 434.5 502.2 433.7C505.8 432.9 509.3 431.4 510.7 430.9 M391.7 387.4C397.5 387.1 416.1 385.5 426.7 385.6C437.2 385.7 447.3 387.3 455 387.8C462.7 388.3 470 388.3 473 388.4 M388.9 397.8C395.2 397.5 415.7 395.9 426.7 395.9C437.7 395.9 448.7 397.4 455 397.8C461.3 398.2 462.8 398.3 464.4 398.4 M400.2 352.5C404.6 352.3 416 351 426.7 351.2C437.4 351.4 452.9 353.1 464.4 353.8C475.9 354.5 490.4 355.1 495.6 355.3 M397.4 361C402.3 360.8 415.5 359.4 426.7 359.5C437.9 359.6 453.7 361.3 464.4 361.9C475.1 362.5 486.5 363.1 490.9 363.3 M410.6 318.5C416.4 318.4 433.5 317.6 445.6 317.9C457.7 318.2 471 319.8 483.3 320.4C495.6 321 513.2 321.5 519.2 321.7 M407.8 326C414.1 325.7 433 324.2 445.6 324.2C458.2 324.2 471.5 325.4 483.3 326C495.1 326.6 510.9 327.7 516.4 328 M432.7 284C437.2 284.1 451 284.1 460 284.3C469 284.5 477.8 285.3 486.7 285.4C495.6 285.4 506.3 285.3 513.3 284.6C520.3 283.9 526.1 281.6 528.7 281 M430.7 288.3C435.6 288.5 450.7 289 460 289.4C469.3 289.8 477.8 290.3 486.7 290.7C495.6 291.1 506 291.6 513.3 291.7C520.6 291.8 527.5 291.1 530.4 291 M456.7 259.7C461.6 259.8 476.1 259.9 486 260.3C495.9 260.7 511 262 516 262.3 M460 249C459.4 250.8 458.6 255.1 456.5 259.7C454.4 264.2 448.8 273.5 447.3 276.3 M516 328C514.6 328.1 510.5 327.2 507.9 328.9C505.3 330.6 502.5 334.7 500.3 338.3C498.1 341.9 495.5 347.8 494.7 350.6C493.9 353.4 496.2 353.2 495.6 355.3C495 357.4 492.9 360.5 490.9 363.3C488.8 366.1 486.3 368.1 483.3 372.3C480.3 376.5 476.1 384 473 388.4C469.9 392.8 466.6 394.8 464.4 398.4C462.2 402 463.8 404.4 459.7 410.1C455.6 415.8 443.2 429 439.9 432.8 M446.5 421.4 L460.7 417.3 M526.8 346.8C525 346 519 343.4 516 342C513 340.6 510 338.9 508.8 338.3 M513.6 360.1C512.3 360.5 508.2 361.4 506 362.5C503.8 363.6 501.2 366 500.3 366.7 M496.6 380.8C498.8 380.9 505.9 380.9 510 381.5C514.1 382.1 519.2 384.1 521.1 384.6 M502.2 402.6C500.5 402.8 495.1 402.9 492 403.5C488.9 404.1 484.8 405.8 483.3 406.3 M477.7 418.6C479.8 419.2 485.9 421.7 490 422.5C494.1 423.3 498.3 424.1 502.2 423.3C506.1 422.5 511.7 418.6 513.6 417.7 M502.2 423.3 L489 435.6 M414.6 507.4C420.5 507.7 440.4 509 450 509.3C459.6 509.6 465.4 509.6 472 509C478.6 508.4 486.6 506.5 489.5 506 M413.7 519.2C419.8 519.7 440.3 521.8 450 522.3C459.7 522.8 465.8 522.7 472 522C478.2 521.3 484.5 518.7 487 518 M513.3 300.3C512.6 301.4 509 304.1 509 307C509 309.9 511.6 315.2 513.3 317.7C515 320.1 518.3 321 519.3 321.7" fill="none" stroke="#777" stroke-width="0.7" stroke-linecap="round" stroke-linejoin="round"/>
<path d="M360.4 517.3L480.9 546.4" fill="none" stroke="#777" stroke-width="0.7"/>
</g>
<path d="M1023.9 561.7L1353.9 341.6" stroke="#1d1d1b" stroke-width="4.4" stroke-linecap="round" stroke-dasharray="10.26 13.80 3.19 13.80" fill="none"/>
<path d="M1027.9 203A359 359 0 0 1 1320.1 359.7" stroke="url(#amax)" stroke-width="8.4" fill="none"/>
<g>
<text class="b" transform="scale(1.060 1)" font-size="35.5" y="189.9" x="422.06 440.36">21<tspan font-size="28.3" x="457.82" y="184.9">°</tspan></text>
<text class="b" transform="scale(1.125 1)" font-size="54.9" y="201.3" x="726.92 757.77">35<tspan font-size="45" x="787.60" y="194.9">°</tspan></text>
<text class="b" transform="scale(1.115 1)" font-size="35.8" y="232.8" x="1073.55 1094.97">49<tspan font-size="28" x="1115.78" y="227.7">°</tspan></text>
</g>
</svg>
</body>
</html>
